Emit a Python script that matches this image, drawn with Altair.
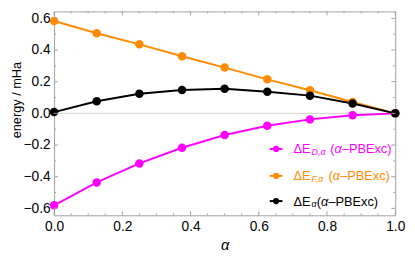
import altair as alt
import pandas as pd

# ---------------- data ----------------
alpha = [0.0, 0.125, 0.25, 0.375, 0.5, 0.625, 0.75, 0.875, 1.0]
dE_D = [-0.581, -0.436, -0.316, -0.217, -0.137, -0.078, -0.038, -0.012, 0.0]
dE_F = [0.583, 0.506, 0.436, 0.361, 0.289, 0.215, 0.146, 0.072, 0.0]
dE_tot = [0.008, 0.076, 0.124, 0.147, 0.155, 0.137, 0.112, 0.062, 0.0]

series_keys = ["D", "F", "E"]
series_colors = ["#FF00FF", "#FF8C00", "#000000"]
legend_subs = ["D,α", "F,α", "α"]

x_major = [0.0, 0.2, 0.4, 0.6, 0.8, 1.0]
x_minor = [0.05, 0.1, 0.15, 0.25, 0.3, 0.35, 0.45, 0.5, 0.55, 0.65, 0.7, 0.75,
           0.85, 0.9, 0.95]
y_major = [-0.6, -0.4, -0.2, 0.0, 0.2, 0.4, 0.6]
y_minor = [-0.5, -0.3, -0.1, 0.1, 0.3, 0.5]

# ---------------- layout / style ----------------
W, H = 348, 208
FONT = "Liberation Sans"
FRAME = "#a0a0a0"

df = pd.DataFrame({
    "alpha": alpha + alpha + alpha,
    "energy": dE_D + dE_F + dE_tot,
    "series": [series_keys[0]] * len(alpha) + [series_keys[1]] * len(alpha)
    + [series_keys[2]] * len(alpha),
})

xscale = alt.Scale(domain=[0, 1], nice=False, zero=False)
yscale = alt.Scale(domain=[-0.644, 0.644], nice=False, zero=False)
cscale = alt.Scale(domain=series_keys, range=series_colors)

xaxis = alt.Axis(values=x_major, format=".1f", ticks=False, domain=False, grid=False,
                 labelFont=FONT, labelFontSize=14, labelColor="black", labelPadding=4,
                 labelFlush=False, labelOverlap=False,
                 title="α", titleFont=FONT, titleFontSize=15, titleFontStyle="italic",
                 titleFontWeight="normal", titleColor="black",
                 titleBaseline="alphabetic", titleY=35)
yaxis = alt.Axis(values=y_major, format=".1f", ticks=False, domain=False, grid=False,
                 labelFont=FONT, labelFontSize=14, labelColor="black", labelPadding=4,
                 labelFlush=False, labelOverlap=False,
                 title="energy / mHa", titleFont=FONT, titleFontSize=13,
                 titleFontWeight="normal", titleColor="black",
                 titleBaseline="alphabetic", titleX=-34.5, titleY=90)


def X(field):
    return alt.X(field, scale=xscale, axis=xaxis)


def Y(field):
    return alt.Y(field, scale=yscale, axis=yaxis)


zero = alt.Chart(pd.DataFrame({"y0": [0.0]})).mark_rule(
    color="#d0d0d0", strokeWidth=1).encode(y=Y("y0:Q"))

lines = alt.Chart(df).mark_line(strokeWidth=2).encode(
    x=X("alpha:Q"), y=Y("energy:Q"),
    color=alt.Color("series:N", scale=cscale, legend=None),
    order=alt.Order("alpha:Q"))

points = alt.Chart(df).mark_point(filled=True, size=75, opacity=1).encode(
    x=X("alpha:Q"), y=Y("energy:Q"),
    color=alt.Color("series:N", scale=cscale, legend=None))

# frame ticks (inward, Mathematica style)
ticks = []
for vals, L in ((x_major, 4), (x_minor, 2)):
    d = pd.DataFrame({"t": vals})
    ticks.append(alt.Chart(d).mark_rule(color=FRAME).encode(
        x=X("t:Q"), y=alt.value(0), y2=alt.value(L)))
    ticks.append(alt.Chart(d).mark_rule(color=FRAME).encode(
        x=X("t:Q"), y=alt.value(H - L), y2=alt.value(H)))
for vals, L in ((y_major, 4), (y_minor, 2)):
    d = pd.DataFrame({"t": vals})
    ticks.append(alt.Chart(d).mark_rule(color=FRAME).encode(
        y=Y("t:Q"), x=alt.value(0), x2=alt.value(L)))
    ticks.append(alt.Chart(d).mark_rule(color=FRAME).encode(
        y=Y("t:Q"), x=alt.value(W - L), x2=alt.value(W)))

# manual legend (needs subscripts)
dummy = pd.DataFrame({"k": [0]})
row_y = [140.3, 167.8, 193.5]
paren_x = [281.7, 280.0, 268.0]
legend = []
for i, col in enumerate(series_colors):
    ry = row_y[i]
    legend.append(alt.Chart(dummy).mark_rule(color=col, strokeWidth=2).encode(
        x=alt.value(220), x2=alt.value(233), y=alt.value(ry)))
    legend.append(alt.Chart(dummy).mark_point(filled=True, size=40, opacity=1, color=col).encode(
        x=alt.value(226.5), y=alt.value(ry)))
    legend.append(alt.Chart(dummy).mark_text(
        align="left", baseline="alphabetic", font=FONT, fontSize=13, color=col).encode(
        x=alt.value(244.3), y=alt.value(ry + 4.6), text=alt.value("ΔE")))
    legend.append(alt.Chart(dummy).mark_text(
        align="left", baseline="alphabetic", font=FONT, fontSize=9, fontStyle="italic",
        color=col).encode(
        x=alt.value(262.7), y=alt.value(ry + 6.3), text=alt.value(legend_subs[i])))
    px = paren_x[i]
    legend.append(alt.Chart(dummy).mark_text(
        align="left", baseline="alphabetic", font=FONT, fontSize=13, color=col).encode(
        x=alt.value(px), y=alt.value(ry + 4.6), text=alt.value("(")))
    legend.append(alt.Chart(dummy).mark_text(
        align="left", baseline="alphabetic", font=FONT, fontSize=13, fontStyle="italic",
        color=col).encode(
        x=alt.value(px + 4.3), y=alt.value(ry + 4.6), text=alt.value("α")))
    legend.append(alt.Chart(dummy).mark_text(
        align="left", baseline="alphabetic", font=FONT, fontSize=13, color=col).encode(
        x=alt.value(px + 4.3 + 7.6), y=alt.value(ry + 4.6), text=alt.value("–PBExc)")))

chart = alt.layer(zero, lines, points, *ticks, *legend).properties(
    width=W, height=H,
    padding={"left": 47, "top": 1, "right": 12, "bottom": 38},
    autosize=alt.AutoSizeParams(type="none"),
).configure_view(stroke=FRAME, strokeWidth=1)

chart.save("out.html", embed_options={"renderer": "svg", "actions": False})
